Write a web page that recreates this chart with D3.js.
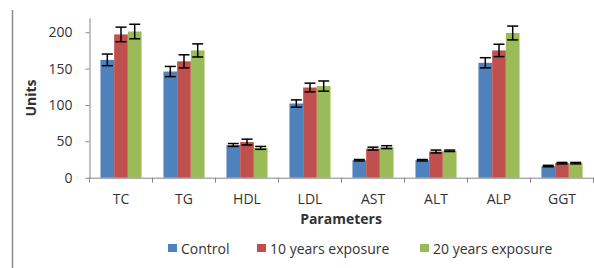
<!DOCTYPE html>
<html lang="en">
<head>
    <meta charset="UTF-8">
    <script src="https://cdn.jsdelivr.net/npm/d3@7"></script>
    <title>Parameters chart</title>
    <style>
        body { margin: 0; background: white; }
        text { font-family: "Open Sans", sans-serif; fill: #333; }
        .axis path, .axis line { stroke: #868686; }
    </style>
</head>
<body>
    <div class="fig"></div>
    <script>
        /*------------------- data --------------------*/
        const categories = ["TC", "TG", "HDL", "LDL", "AST", "ALT", "ALP", "GGT"];
        const seriesNames = ["Control", "10 years exposure", "20 years exposure"];
        const control = [162, 146, 45, 102, 24, 24, 158, 16];
        const exp10 = [197, 160, 49, 124, 40, 36, 175, 20];
        const exp20 = [201, 175, 41, 126, 42, 37, 199, 20];
        const controlErr = [8, 7, 2, 5, 1, 1, 7, 1];
        const exp10Err = [10, 9, 4, 6, 2, 2, 8.5, 1];
        const exp20Err = [10, 9, 2, 7, 2, 1, 9.5, 1];
        const yTicks = [0, 50, 100, 150, 200];
        const colors = ["#4F81BD", "#C0504D", "#9BBB59"];

        const values = [control, exp10, exp20];
        const errors = [controlErr, exp10Err, exp20Err];

        /*------------------- layout --------------------*/
        const width = 594, height = 268;
        const svg = d3.select(".fig").append("svg")
            .attr("width", width)
            .attr("height", height);

        // chart frame line on the left
        svg.append("line")
            .attr("x1", 12.5).attr("x2", 12.5)
            .attr("y1", 10).attr("y2", height)
            .attr("stroke", "#8c8c8c").attr("stroke-width", 1.5);

        const x0 = d3.scaleBand().domain(categories).range([89.5, 593.5]);
        const x1 = d3.scaleBand().domain(seriesNames)
            .range([0, x0.bandwidth()])
            .paddingInner(0).paddingOuter(0.8);
        const y = d3.scaleLinear().domain([0, 220]).range([177.7, 17.7]);

        // bars
        const groups = svg.selectAll(".grp")
            .data(categories)
            .enter().append("g")
            .attr("transform", d => `translate(${x0(d)},0)`);

        const cells = (c, i) => seriesNames.map((s, k) => ({ s, k, v: values[k][i], e: errors[k][i] }));

        groups.selectAll("rect")
            .data(cells)
            .enter().append("rect")
            .attr("x", d => x1(d.s))
            .attr("y", d => y(d.v))
            .attr("width", x1.bandwidth())
            .attr("height", d => y(0) - y(d.v))
            .attr("fill", d => colors[d.k]);

        // error bars
        const capW = 5.5;
        const eb = groups.selectAll(".err")
            .data(cells)
            .enter().append("g")
            .attr("stroke", "#000").attr("stroke-width", 1.5);
        eb.append("line")
            .attr("x1", d => x1(d.s) + x1.bandwidth() / 2)
            .attr("x2", d => x1(d.s) + x1.bandwidth() / 2)
            .attr("y1", d => y(d.v + d.e)).attr("y2", d => y(d.v - d.e));
        eb.selectAll(".cap")
            .data(d => [d.v + d.e, d.v - d.e].map(t => ({ cx: x1(d.s) + x1.bandwidth() / 2, t })))
            .enter().append("line")
            .attr("x1", d => d.cx - capW).attr("x2", d => d.cx + capW)
            .attr("y1", d => y(d.t)).attr("y2", d => y(d.t));

        // y axis
        const yAxis = svg.append("g").attr("class", "axis")
            .attr("transform", "translate(89.5,0)")
            .call(d3.axisLeft(y).tickValues(yTicks).tickSize(4).tickSizeOuter(0).tickPadding(13));
        yAxis.selectAll("text").style("font-size", "14px").style("fill", "#333");

        // x axis with ticks between categories
        const xAxis = svg.append("g").attr("class", "axis");
        xAxis.append("line")
            .attr("x1", x0.range()[0]).attr("x2", x0.range()[1])
            .attr("y1", y(0) + 0.5).attr("y2", y(0) + 0.5);
        xAxis.selectAll(".tk")
            .data(categories.concat([null]))
            .enter().append("line")
            .attr("x1", (d, i) => x0.range()[0] + i * x0.step())
            .attr("x2", (d, i) => x0.range()[0] + i * x0.step())
            .attr("y1", y(0)).attr("y2", y(0) + 5);
        xAxis.selectAll("text")
            .data(categories)
            .enter().append("text")
            .attr("x", d => x0(d) + x0.bandwidth() / 2)
            .attr("y", 204)
            .attr("text-anchor", "middle")
            .style("font-size", "14px")
            .text(d => d);

        // axis titles
        svg.append("text")
            .attr("x", 341).attr("y", 224)
            .attr("text-anchor", "middle")
            .style("font-size", "14px").style("font-weight", "bold")
            .text("Parameters");
        svg.append("text")
            .attr("transform", "translate(36,98) rotate(-90)")
            .attr("text-anchor", "middle")
            .style("font-size", "14px").style("font-weight", "bold")
            .text("Units");

        // legend
        const legendX = [168, 257, 420];
        const legend = svg.selectAll(".leg")
            .data(seriesNames)
            .enter().append("g")
            .attr("transform", (d, i) => `translate(${legendX[i]},244)`);
        legend.append("rect")
            .attr("width", 9).attr("height", 8)
            .attr("fill", (d, i) => colors[i]);
        legend.append("text")
            .attr("x", 13).attr("y", 9.5)
            .style("font-size", "14px")
            .text(d => d);
    </script>
</body>
</html>
